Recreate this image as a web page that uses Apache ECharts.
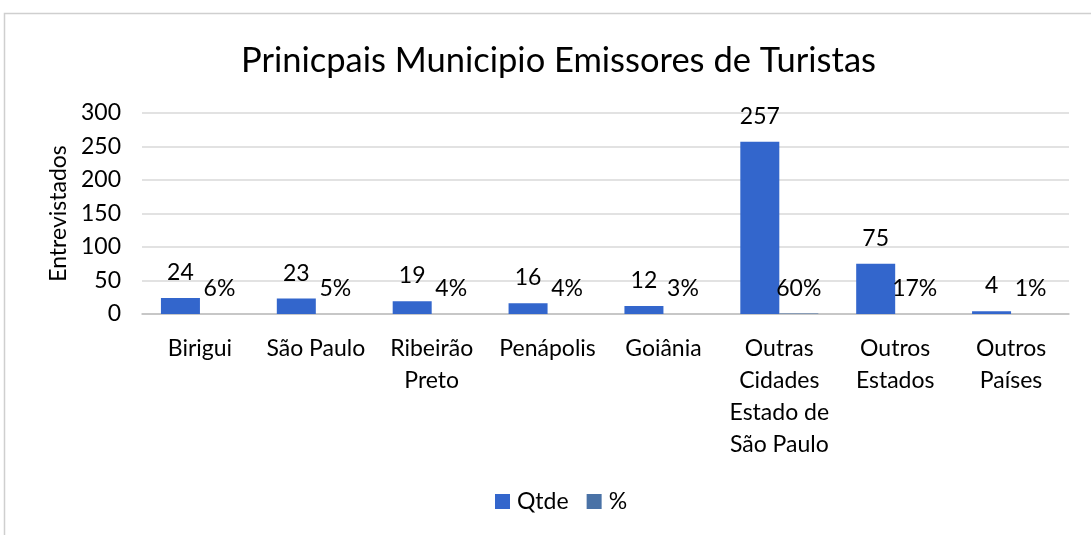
<!DOCTYPE html>
<html>
<head>
<meta charset="utf-8">
<script src="https://cdn.jsdelivr.net/npm/echarts@6/dist/echarts.min.js"></script>
<style>
  html, body { margin: 0; padding: 0; background: #fff; }
  #main { width: 1091px; height: 535px; }
</style>
</head>
<body>
<div id="main"></div>
<script>
var categories = ['Birigui', 'São Paulo', 'Ribeirão\nPreto', 'Penápolis', 'Goiânia',
  'Outras\nCidades\nEstado de\nSão Paulo', 'Outros\nEstados', 'Outros\nPaíses'];
var qtde = [24, 23, 19, 16, 12, 257, 75, 4];
var pct = [6, 5, 4, 4, 3, 60, 17, 1]; // percent labels
var yTicks = [0, 50, 100, 150, 200, 250, 300];

var font = 'Lato, "Open Sans", sans-serif';
var chart = echarts.init(document.getElementById('main'));

var option = {
  backgroundColor: '#ffffff',
  textStyle: { fontFamily: font },
  graphic: [{
    type: 'rect',
    shape: { x: 4.5, y: 13.5, width: 1200, height: 700 },
    style: { fill: 'none', stroke: '#cfcfcf', lineWidth: 1.5 },
    silent: true
  }],
  title: {
    text: 'Prinicpais Municipio Emissores de Turistas',
    left: 236,
    top: 38,
    textStyle: { fontFamily: font, fontSize: 34.5, fontWeight: 'normal', color: '#000' }
  },
  legend: {
    bottom: 17,
    left: 490,
    itemWidth: 15,
    itemHeight: 15,
    itemGap: 18,
    icon: 'rect',
    textStyle: { fontFamily: font, fontSize: 23, color: '#000', padding: [0, 0, 0, 2] },
    data: ['Qtde', '%']
  },
  grid: { left: 142, right: 22, top: 113, bottom: 221 },
  xAxis: {
    type: 'category',
    data: categories,
    axisLine: { lineStyle: { color: '#bfbfbf', width: 1.5 } },
    axisTick: { show: false },
    axisLabel: { fontFamily: font, fontSize: 23, color: '#000', lineHeight: 32, margin: 19, interval: 0 }
  },
  yAxis: {
    type: 'value',
    min: yTicks[0],
    max: yTicks[yTicks.length - 1],
    interval: 50,
    name: 'Entrevistados',
    nameLocation: 'middle',
    nameGap: 72,
    nameRotate: 90,
    nameTextStyle: { fontFamily: font, fontSize: 23, color: '#000' },
    axisLine: { show: false },
    axisTick: { show: false },
    axisLabel: { fontFamily: font, fontSize: 23, color: '#000', margin: 21 },
    splitLine: { lineStyle: { color: '#d9d9d9', width: 1.5 } }
  },
  series: [{
    name: 'Qtde',
    type: 'bar',
    data: qtde,
    barWidth: 39,
    barGap: '0%',
    itemStyle: { color: '#3366cc' },
    label: { show: true, position: 'top', distance: 14, fontFamily: font, fontSize: 23, color: '#000' }
  }, {
    name: '%',
    type: 'bar',
    data: pct.map(function (p) { return p / 100; }),
    barWidth: 39,
    itemStyle: { color: '#4a72a6' },
    label: {
      show: true, position: 'top', distance: 14, fontFamily: font, fontSize: 23, color: '#000',
      formatter: function (p) { return pct[p.dataIndex] + '%'; }
    }
  }]
};

chart.setOption(option);
</script>
</body>
</html>
